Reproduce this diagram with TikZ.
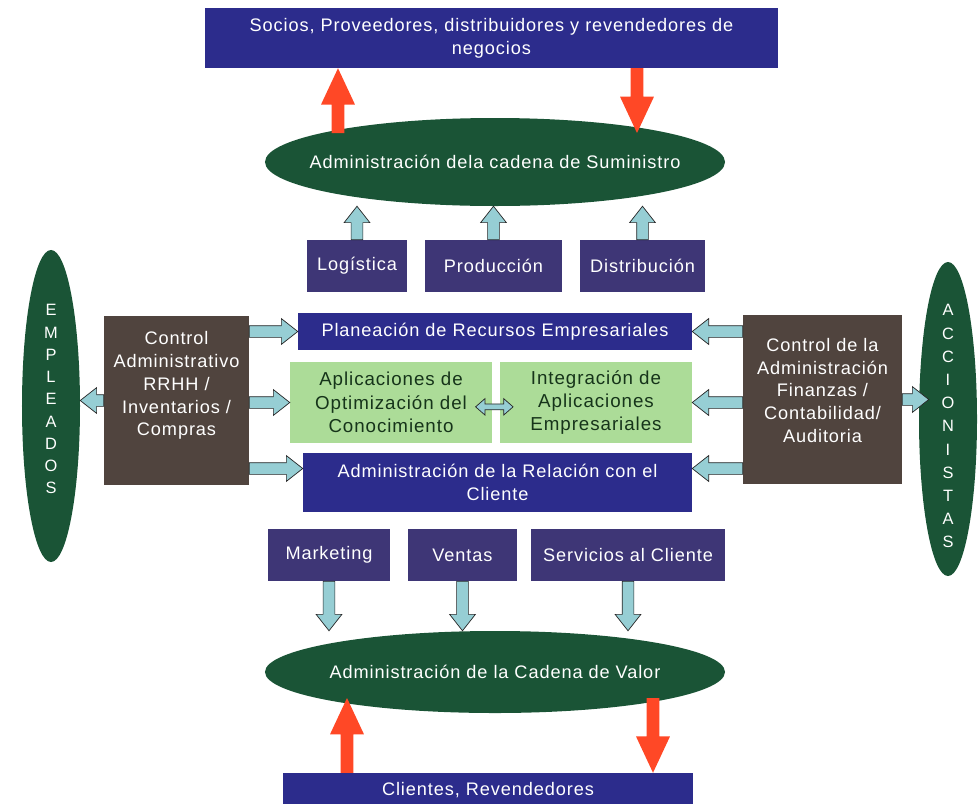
\documentclass[tikz,border=0pt]{standalone}
\usepackage{fontspec}
\setmainfont[LetterSpace=5]{Liberation Sans}
\usetikzlibrary{shapes.geometric,calc}

\definecolor{cNavy}{RGB}{44,44,140}
\definecolor{cSlate}{RGB}{62,54,118}
\definecolor{cForest}{RGB}{26,84,54}
\definecolor{cBrown}{RGB}{80,68,62}
\definecolor{cLeaf}{RGB}{172,220,152}
\definecolor{cLeafText}{RGB}{22,52,26}
\definecolor{cCyan}{RGB}{150,206,212}
\definecolor{cRed}{RGB}{255,72,38}

% block arrow: style, half shaft, half head, head length, from, to
\newcommand{\fatarrow}[6]{%
  \coordinate (fa-s) at (#5);
  \coordinate (fa-e) at (#6);
  \coordinate (fa-h) at ($(fa-e)!#4!(fa-s)$);
  \filldraw[#1] ($(fa-s)!#2!90:(fa-e)$) -- ($(fa-h)!#2!-90:(fa-s)$)
    -- ($(fa-h)!#3!-90:(fa-s)$) -- (fa-e) -- ($(fa-h)!#3!90:(fa-s)$)
    -- ($(fa-h)!#2!90:(fa-s)$) -- ($(fa-s)!#2!-90:(fa-e)$) -- cycle;}
\newcommand{\redarrow}[2]{\fatarrow{redarrow}{5.5pt}{14.5pt}{31pt}{#1}{#2}}
\newcommand{\cyanarrow}[2]{\fatarrow{cyanarrow}{5pt}{11pt}{14pt}{#1}{#2}}
% two headed block arrow
\newcommand{\dblarrow}[2]{%
  \coordinate (da-a) at (#1);
  \coordinate (da-b) at (#2);
  \coordinate (da-ha) at ($(da-a)!8pt!(da-b)$);
  \coordinate (da-hb) at ($(da-b)!8pt!(da-a)$);
  \filldraw[cyanarrow] (da-a) -- ($(da-ha)!7pt!90:(da-b)$) -- ($(da-ha)!2.5pt!90:(da-b)$)
    -- ($(da-hb)!2.5pt!-90:(da-a)$) -- ($(da-hb)!7pt!-90:(da-a)$) -- (da-b)
    -- ($(da-hb)!7pt!90:(da-a)$) -- ($(da-hb)!2.5pt!90:(da-a)$)
    -- ($(da-ha)!2.5pt!-90:(da-b)$) -- ($(da-ha)!7pt!-90:(da-b)$) -- cycle;}

\begin{document}
\begin{tikzpicture}[x=0.03cm, y=-0.03cm,
    every node/.style={font=\fontsize{15.5}{19.5}\selectfont, text=white, align=center, inner sep=0pt},
    navybox/.style={rectangle, fill=cNavy},
    slatebox/.style={rectangle, fill=cSlate, minimum height=1.56cm},
    brownpanel/.style={rectangle, fill=cBrown, minimum height=5.07cm},
    leafbox/.style={rectangle, fill=cLeaf, text=cLeafText, minimum height=2.43cm,
        font=\fontsize{16}{20}\selectfont},
    greenoval/.style={ellipse, fill=cForest},
    ovalletters/.style={font=\fontsize{14}{19}\selectfont},
    redarrow/.style={fill=cRed, draw=none},
    cyanarrow/.style={fill=cCyan, draw=black!85, line width=0.6pt},
]
    \useasboundingbox (0,0) rectangle (978,803);

    % supply side
    \node[navybox, minimum width=17.19cm, minimum height=1.8cm] (partners) at (491.5,38)
        {Socios, Proveedores, distribuidores y revendedores de\\negocios};
    \node[greenoval, minimum width=13.8cm, minimum height=2.64cm,
        label={center:Administración dela cadena de Suministro}] (scm) at (495,162) {};
    \node[slatebox, minimum width=3.0cm] (logis) at (357,266) {Logística};
    \node[slatebox, minimum width=4.11cm] (produc) at (493.5,266) {Producción};
    \node[slatebox, minimum width=3.75cm] (distrib) at (642.5,266) {Distribución};

    \coordinate (scmup) at (338,133);
    \coordinate (scmdown) at (637,133);
    \redarrow{scmup}{scmup |- partners.south}
    \redarrow{scmdown |- partners.south}{scmdown}
    \cyanarrow{logis.north}{logis.north |- scm.south}
    \cyanarrow{produc.north}{produc.north |- scm.south}
    \cyanarrow{distrib.north}{distrib.north |- scm.south}

    % core
    \node[greenoval, minimum width=1.74cm, minimum height=9.36cm,
        label={[ovalletters, yshift=0.2cm]center:E\\M\\P\\L\\E\\A\\D\\O\\S}] (staff) at (51,406) {};
    \node[greenoval, minimum width=1.74cm, minimum height=9.42cm,
        label={[ovalletters, font=\fontsize{14}{19.8}\selectfont, yshift=-0.22cm]center:A\\C\\C\\I\\O\\N\\I\\S\\T\\A\\S}]
        (owners) at (948,419) {};
    \node[brownpanel, minimum width=4.35cm,
        label={[yshift=0.45cm]center:Control\\Administrativo\\RRHH /\\Inventarios /\\Compras}]
        (adminctl) at (176.5,400.5) {};
    \node[brownpanel, minimum width=4.77cm,
        label={[yshift=0.27cm]center:Control de la\\Administración\\Finanzas /\\Contabilidad/\\Auditoria}]
        (finctl) at (822.5,399.5) {};
    \node[navybox, minimum width=11.82cm, minimum height=1.11cm] (erp) at (495,331.5)
        {Planeación de Recursos Empresariales};
    \node[leafbox, minimum width=6.06cm] (kmo) at (391,402.5)
        {Aplicaciones de\\Optimización del\\Conocimiento};
    \node[leafbox, minimum width=5.76cm] (eai) at (596,402.5)
        {Integración de\\Aplicaciones\\Empresariales};
    \node[navybox, minimum width=11.67cm, minimum height=1.77cm] (crm) at (497.5,482.5)
        {Administración de la Relación con el\\Cliente};

    \coordinate (crmleft) at ([yshift=0.42cm]crm.west);
    \coordinate (crmright) at ([yshift=0.42cm]crm.east);
    \coordinate (ownersin) at ([xshift=0.3cm]owners.west);
    \cyanarrow{adminctl.east |- erp.west}{erp.west}
    \cyanarrow{adminctl.east |- kmo.west}{kmo.west}
    \cyanarrow{adminctl.east |- crmleft}{crmleft}
    \cyanarrow{finctl.west |- erp.east}{erp.east}
    \cyanarrow{finctl.west |- eai.east}{eai.east}
    \cyanarrow{finctl.west |- crmright}{crmright}
    \cyanarrow{adminctl.west}{staff.east |- adminctl.west}
    \cyanarrow{finctl.east}{ownersin |- finctl.east}
    \dblarrow{[xshift=-0.5cm,yshift=-0.13cm]kmo.east}{[xshift=0.4cm,yshift=-0.13cm]eai.west}

    % demand side
    \node[slatebox, minimum width=3.66cm] (mkt) at (329,555) {Marketing};
    \node[slatebox, minimum width=3.27cm] (sales) at (462.5,555) {Ventas};
    \node[slatebox, minimum width=5.82cm] (service) at (628,555) {Servicios al Cliente};
    \node[greenoval, minimum width=13.8cm, minimum height=2.46cm,
        label={center:Administración de la Cadena de Valor}] (vcm) at (495,672) {};
    \node[navybox, minimum width=12.3cm, minimum height=1.02cm] (clients) at (488,790)
        {Clientes, Revendedores};

    \cyanarrow{mkt.south}{mkt.south |- vcm.north}
    \cyanarrow{sales.south}{sales.south |- vcm.north}
    \cyanarrow{service.south}{service.south |- vcm.north}

    \coordinate (vcmup) at (347,698);
    \coordinate (vcmdown) at (653,698);
    \redarrow{vcmup |- clients.north}{vcmup}
    \redarrow{vcmdown}{vcmdown |- clients.north}
\end{tikzpicture}
\end{document}
